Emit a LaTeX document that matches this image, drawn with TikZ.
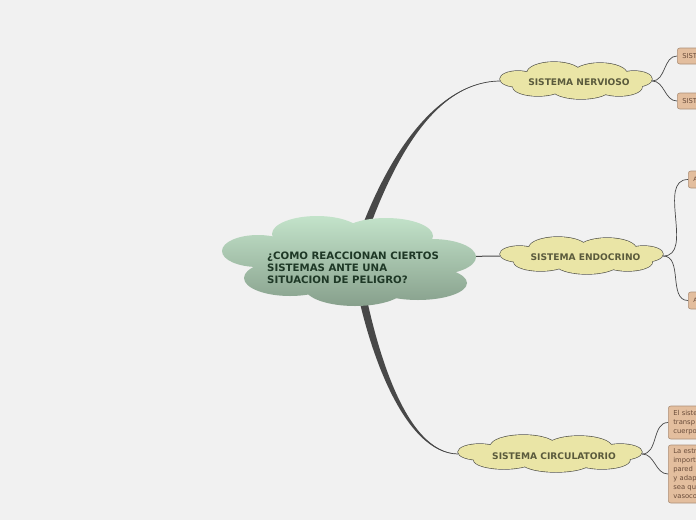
\documentclass[tikz,border=0pt]{standalone}
\usepackage{fontspec}
\setmainfont{DejaVu Sans}
\definecolor{bg}{HTML}{F1F1F1}
\definecolor{roottop}{HTML}{C3E3CA}
\definecolor{rootbot}{HTML}{87A08C}
\definecolor{roottext}{HTML}{1E3826}
\definecolor{yel}{HTML}{EAE5A6}
\definecolor{yelline}{HTML}{55554D}
\definecolor{yeltext}{HTML}{5A5A3C}
\definecolor{boxfill}{HTML}{E3BE9E}
\definecolor{boxline}{HTML}{AD9078}
\definecolor{boxtext}{HTML}{6A4C3A}
\definecolor{conn}{HTML}{484848}
\tikzset{
  subanchor/.style={inner sep=0pt, minimum height=38pt},
  sublabel/.style={inner sep=0pt, font=\bfseries\fontsize{9.1}{11}\selectfont, text=yeltext},
  leafbox/.style={draw=boxline, fill=boxfill, line width=0.6pt, rounded corners=2.5pt,
    anchor=west, inner xsep=4.5pt, inner ysep=0pt, align=left, minimum width=90pt,
    text width=80pt, font=\fontsize{6.8}{9}\selectfont, text=boxtext},
  thin/.style={draw=conn, line width=0.7pt},
  taper/.style={fill=conn}
}
\def\cloudpath{(-58,-2) ellipse (18 and 8)
  (-22,-8) ellipse (27 and 11)
  (24,-7) ellipse (27 and 11)
  (58,-2) ellipse (18 and 8)
  (-38,6) ellipse (25 and 9)
  (5,8) ellipse (29 and 10)
  (43,6) ellipse (23 and 9)
  (0,0) ellipse (62 and 11)}
\newcommand\yelcloud[2]{%
  \begin{scope}[shift={(#1.center)}, xscale=#2]
    \draw[yelline, line width=1.3pt] \cloudpath;
    \fill[yel] \cloudpath;
  \end{scope}}
\begin{document}
\begin{tikzpicture}[x=1pt,y=-1pt]
\fill[bg] (0,0) rectangle (696,520);
\useasboundingbox (0,0) rectangle (696,520);
\begin{scope}
\clip (0,0) rectangle (696,520);
\coordinate (root) at (355,258);
% sub cloud anchors
\node[subanchor, minimum width=152pt] (nerv) at (576,81) {};
\node[subanchor, minimum width=163pt] (endo) at (581.5,256) {};
\node[subanchor, minimum width=184pt] (circ) at (550,454) {};
% leaf boxes
\node[leafbox, minimum height=16pt] (n1) at (677,56) {SIST};
\node[leafbox, minimum height=16pt] (n2) at (677,101) {SIST};
\node[leafbox, minimum height=17pt, inner xsep=2pt, font=\fontsize{6}{8}\selectfont] (e1) at (688,179.5) {A};
\node[leafbox, minimum height=17pt, inner xsep=2pt, font=\fontsize{6}{8}\selectfont] (e2) at (688,300.5) {A};
\node[leafbox, minimum height=33pt] (c1) at (668,422.5) {El siste\\transp\\cuerpo};
\node[leafbox, minimum height=58pt] (c2) at (668,474) {La estr\\import\\pared\\y adap\\sea qu\\vasoco};
% main connectors (tapered)
\fill[taper] ([xshift=-4pt]root) .. controls (379,170) and (430,82) .. (nerv.west)
  .. controls (430,82) and (387,172) .. ([xshift=4pt]root) -- cycle;
\draw[thin] (root) .. controls (383,171) and (430,82) .. (nerv.west);
\fill[taper] ([xshift=-4pt]root) .. controls (366,352) and (405,454) .. (circ.west)
  .. controls (405,452) and (374,348) .. ([xshift=4pt]root) -- cycle;
\draw[thin] (root) .. controls (370,350) and (405,453) .. (circ.west);
\draw[thin, line width=1pt] (root) -- (endo.west);
% leaf connectors
\draw[thin] (nerv.east) to[out=0,in=180] (n1.west);
\draw[thin] (nerv.east) to[out=0,in=180] (n2.west);
\draw[thin] (endo.east) to[out=0,in=180] (e1.west);
\draw[thin] (endo.east) to[out=0,in=180] (e2.west);
\draw[thin] (circ.east) to[out=0,in=180] (c1.west);
\draw[thin] (circ.east) to[out=0,in=180] (c2.west);
% yellow clouds
\yelcloud{nerv}{1}
\yelcloud{endo}{1.0724}
\yelcloud{circ}{1.2105}
\node[sublabel] (nervlabel) at ([xshift=3pt,yshift=-1pt]nerv.center) {SISTEMA NERVIOSO};
\node[sublabel] (endolabel) at ([xshift=4pt,yshift=-1pt]endo.center) {SISTEMA ENDOCRINO};
\node[sublabel] (circlabel) at ([xshift=4pt,yshift=-2pt]circ.center) {SISTEMA CIRCULATORIO};
% root cloud
\shade[top color=roottop, bottom color=rootbot]
  (258,251) ellipse (36 and 16)
  (317,234) ellipse (45 and 18)
  (386,236) ellipse (47 and 18)
  (432,257) ellipse (44 and 18)
  (418,283) ellipse (49 and 17)
  (355,288) ellipse (50 and 18)
  (290,278) ellipse (46 and 18)
  (352,260) ellipse (95 and 30);
\node[anchor=north west, inner sep=0pt, align=left, text=roottext,
  font=\bfseries\fontsize{10.2}{12}\selectfont] (roottext) at (267,252)
  {¿COMO REACCIONAN CIERTOS\\SISTEMAS ANTE UNA\\SITUACION DE PELIGRO?};
\end{scope}
\end{tikzpicture}
\end{document}
